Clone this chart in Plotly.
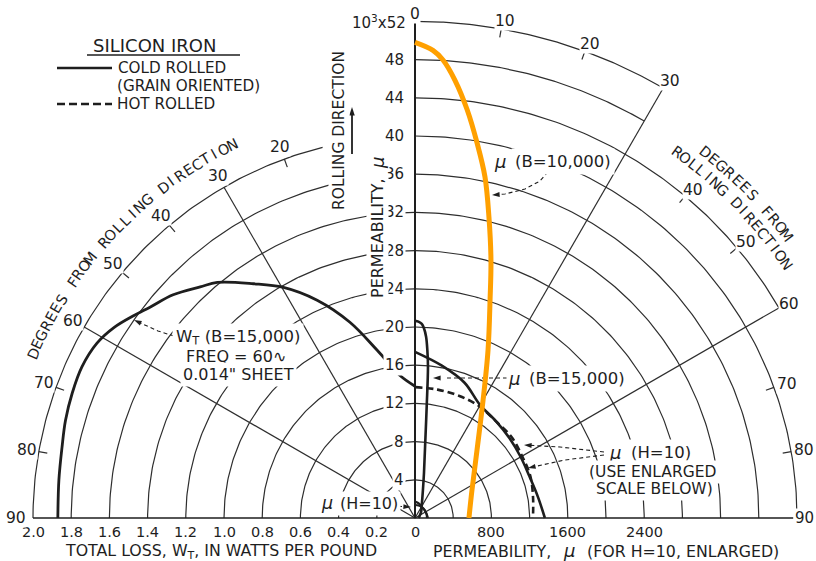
import math
import numpy as np
import plotly.graph_objects as go

# ---------------- data ----------------
# Total loss W_T (B = 15,000, 60 cycles, 0.014" sheet) - cold rolled, watts per pound
wt_angle_deg = [0, 6, 12.7, 18.4, 24.2, 29.7, 34.6, 40, 42.9, 47.3, 51.5, 54.4, 57.7, 61.2, 65.6, 70, 74.4, 78.6, 83.9, 90]
wt_cold = [0.69, 0.75, 0.90, 1.08, 1.25, 1.39, 1.49, 1.61, 1.652, 1.723, 1.773, 1.816, 1.865, 1.90, 1.915, 1.91, 1.90, 1.885, 1.875, 1.87]

# Permeability at B = 10,000 - cold rolled
mu_b10_angle_deg = [0, 2.2, 3.5, 5.2, 7.3, 9.4, 11.6, 13.8, 16.4, 19, 23.5, 30, 42.4, 63.8, 90]
mu_b10_cold = [49800, 49000, 48050, 46050, 43070, 39800, 36450, 32460, 28170, 24140, 19180, 14260, 9630, 6650, 5650]

# Permeability at B = 15,000 - cold rolled
mu_b15_angle_deg = [0, 1, 2, 2.7, 3.5, 4.2, 4.9, 6, 8, 11.3, 16, 22, 31, 45, 60, 90]
mu_b15_cold = [20650, 20560, 20330, 19890, 19020, 17640, 15900, 11700, 7600, 4800, 3000, 2000, 1350, 900, 600, 400]

# Permeability at H = 10 - cold rolled (solid) and hot rolled (dashed)
mu_h10_angle_deg = [0, 10, 20, 30, 40, 50, 60, 70, 80, 90]
mu_h10_cold = [1740, 1620, 1510, 1365, 1322, 1295, 1278, 1275, 1305, 1360]
mu_h10_hot = [1370, 1365, 1360, 1350, 1320, 1320, 1295, 1285, 1255, 1235]

# axes / tick labels
mu_ticks = [4, 8, 12, 16, 20, 24, 28, 32, 36, 40, 44, 48]          # x 10^3
loss_ticks = [2.0, 1.8, 1.6, 1.4, 1.2, 1.0, 0.8, 0.6, 0.4, 0.2]
mu_h10_ticks = [0, 800, 1600, 2400]
deg_right = [0, 10, 20, 30, 40, 50, 60, 70, 80, 90]
deg_left = [20, 30, 40, 50, 60, 70, 80, 90]
grid_radii = [4, 8, 12, 16, 20, 24, 28, 32, 36, 40, 44, 48, 52]

# ---------------- scales ----------------
MU_B_PER_UNIT = 1000.0   # 10^3 scale of the vertical axis
MU_H_PER_UNIT = 100.0    # enlarged H=10 scale
UNITS_PER_WATT = 20.0    # 2.0 W/lb on the outer 40-unit circle

S = 9.55                 # pixels per unit
OX, OY = 415, 518        # origin in pixels
W, H = 816, 561
INK = "#1e1e1e"
GRID = "#2e2e2e"
FONT = "DejaVu Sans"


def P(px, py):
    return (px - OX) / S, (OY - py) / S


def polar(angles, radii, side=1):
    a = np.radians(np.asarray(angles, float))
    r = np.asarray(radii, float)
    return side * r * np.sin(a), r * np.cos(a)


fig = go.Figure()


def line(x, y, width=1.2, color=GRID, dash=None, shape="linear"):
    fig.add_trace(go.Scatter(x=list(x), y=list(y), mode="lines", hoverinfo="skip",
                             line=dict(color=color, width=width, dash=dash, shape=shape),
                             showlegend=False))


def arrowhead(tip, frm, size=8):
    dx, dy = tip[0] - frm[0], tip[1] - frm[1]
    ang = math.degrees(math.atan2(dx, -dy))
    x, y = P(*tip)
    fig.add_trace(go.Scatter(x=[x], y=[y], mode="markers", hoverinfo="skip", showlegend=False,
                             marker=dict(symbol="arrow", size=size, angle=ang, color=INK,
                                         line=dict(width=0))))


def arc(r, a0, a1, side=1):
    a = np.linspace(a0, a1, 120)
    x, y = polar(a, np.full_like(a, r), side)
    line(x, y)


# ---------------- grid ----------------
right_extent = {44: 60, 48: 30, 52: 30}
left_extent = {36: 14.5, 40: 14}
for r in grid_radii:
    arc(r, 0, right_extent.get(r, 90), 1)
    if r <= 40:
        arc(r, left_extent.get(r, 0), 90, -1)

for ang, rmax, side in [(30, 52, 1), (60, 44, 1), (30, 40, -1), (60, 40, -1)]:
    x, y = polar([ang, ang], [0, rmax], side)
    line(x, y)

tick_marks = [(10, 52, 1), (20, 52, 1), (40, 44, 1), (50, 44, 1), (70, 40, 1), (80, 40, 1),
              (20, 40, -1), (40, 40, -1), (50, 40, -1), (70, 40, -1), (80, 40, -1)]
for ang, r, side in tick_marks:
    x, y = polar([ang, ang], [r, r - 0.9], side)
    line(x, y)

# axes
line([-40, 39.6], [0, 0], width=1.7, color=INK)
line([0, 0], [0, 52], width=2.0, color=INK)

# ---------------- curves ----------------
x, y = polar(wt_angle_deg, np.array(wt_cold) * UNITS_PER_WATT, -1)
line(x, y, width=2.8, color=INK, shape="spline")

x, y = polar(mu_b15_angle_deg, np.array(mu_b15_cold) / MU_B_PER_UNIT, 1)
line(x, y, width=2.6, color=INK, shape="spline")

x, y = polar(mu_h10_angle_deg, np.array(mu_h10_cold) / MU_H_PER_UNIT, 1)
line(x, y, width=2.6, color=INK, shape="spline")
x, y = polar(mu_h10_angle_deg, np.array(mu_h10_hot) / MU_H_PER_UNIT, 1)
line(x, y, width=2.6, color=INK, dash="7px,4px", shape="spline")

# H = 10 at true scale (small loops at the origin)
x, y = polar(mu_h10_angle_deg, np.array(mu_h10_cold) / MU_B_PER_UNIT, 1)
line(x, y, width=2.2, color=INK, shape="spline")
x, y = polar(mu_h10_angle_deg, np.array(mu_h10_hot) / MU_B_PER_UNIT, 1)
line(x, y, width=2.0, color=INK, shape="spline")

# legend samples
lx0, ly0 = P(57, 68)
lx1, _ = P(112, 68)
line([lx0, lx1], [ly0, ly0], width=2.6, color=INK)
_, ly1 = P(57, 104)
line([lx0, lx1], [ly1, ly1], width=2.6, color=INK, dash="8px,4px")
ux0, uy = P(87, 55)
ux1, _ = P(240, 55)
line([ux0, ux1], [uy, uy], width=1.3, color=INK)

# dashed leader lines with arrowheads
leaders = [
    [(548, 172), (540, 181), (525, 189), (505, 194), (492, 195)],
    [(507, 378), (433, 378)],
    [(604, 452), (560, 447), (524, 445)],
    [(604, 455), (565, 460), (528, 468)],
    [(174, 336), (158, 331), (134, 320)],
    [(391, 506), (411, 507)],
]
for pts in leaders:
    tip, prev = pts[-1], pts[-2]
    stop = (tip[0] - (tip[0] - prev[0]) * 0.15, tip[1] - (tip[1] - prev[1]) * 0.15)
    xs, ys = zip(*[P(a, b) for a, b in pts[:-1] + [stop]])
    line(xs, ys, width=1.1, color=INK, dash="4px,3px")
    arrowhead(tip, prev, size=8)

# rolling direction arrow
x0, y0 = P(352, 154)
x1, y1 = P(352, 112)
line([x0, x1], [y0, y1], width=1.8, color=INK)
arrowhead((352, 107), (352, 154), size=9)

anns = []


def txt(s, px, py, size=15, angle=0, xa="center", ya="middle", bg=False, pad=1, style="normal"):
    x, y = P(px, py)
    d = dict(x=x, y=y, xref="x", yref="y", text=s, showarrow=False, textangle=angle,
             xanchor=xa, yanchor=ya, borderpad=pad,
             font=dict(family=FONT, size=size, color=INK, style=style))
    if bg:
        d["bgcolor"] = "white"
    anns.append(d)


def mu(px, py, size=18, angle=0, bg=True):
    txt("μ", px, py, size=size, angle=angle, bg=bg, pad=1, style="italic")


def txt_units(s, x, y, **kw):
    txt(s, OX + x * S, OY - y * S, **kw)


# vertical axis tick labels
for v in mu_ticks:
    txt(str(v), 406, OY - v * S, xa="right", bg=True, pad=1, size=15)
txt("10<sup>3</sup>x52", 408, 22, xa="right", size=15)

# bottom tick labels
for v in loss_ticks:
    txt(f"{v:.1f}", OX - v * UNITS_PER_WATT * S, 532, size=14.5, pad=0)
for v in mu_h10_ticks:
    txt(str(v), OX + v / MU_H_PER_UNIT * S, 532, size=14.5, pad=0)

txt("TOTAL LOSS, W<sub>T</sub>, IN WATTS PER POUND", 221, 551, size=15.8, pad=0)
txt("PERMEABILITY,", 552, 551, xa="right", size=15.8, pad=0)
mu(569, 550, size=18, bg=False)
txt("(FOR H=10, ENLARGED)", 586, 551, xa="left", size=15.8, pad=0)

# degree labels
for d in deg_right:
    r = 52.8 if d <= 30 else (44.9 if d <= 60 else 41.1)
    x, y = polar([d], [r], 1)
    if d == 90:
        txt(str(d), 815, OY - y[0] * S, xa="right", bg=True, pad=0, size=15)
    else:
        txt_units(str(d), x[0] + (0.3 if d > 0 else 0), y[0], bg=True, pad=0, size=15.5)
for d in deg_left:
    r = 41.3 if d < 90 else 41.8
    x, y = polar([d], [r], -1)
    txt_units(str(d), x[0], y[0], bg=True, pad=0, size=15.5)


# curved titles
def curved(s, r, a0, a1, side=1, size=14.5):
    n = len(s)
    for i, ch in enumerate(s):
        if ch == " ":
            continue
        a = a0 + (a1 - a0) * i / (n - 1)
        x, y = polar([a], [r], side)
        txt_units(ch, x[0], y[0], size=size, angle=side * a, pad=0)


curved("DEGREES FROM ROLLING DIRECTION", 43.5, 66.7, 26.1, side=-1)
curved("DEGREES FROM", 48.9, 38.4, 52.8)
curved("ROLLING DIRECTION", 47.1, 35.6, 55.6)

# axis side titles
txt("ROLLING DIRECTION", 339, 131, angle=-90, size=15.5, bg=True)
txt("PERMEABILITY,", 377, 238, angle=-90, size=16, bg=True)
mu(377, 163, size=18, angle=-90)

# legend
txt("SILICON IRON", 154, 45, size=18)
txt("COLD ROLLED", 117, 68, xa="left", size=15.2, pad=0)
txt("(GRAIN ORIENTED)", 116, 86, xa="left", size=15.2, pad=0)
txt("HOT ROLLED", 116, 104, xa="left", size=15.2, pad=0)

# curve labels
txt("(B=10,000)", 511, 161, xa="left", size=16.5, bg=True, pad=3)
mu(500, 161)
txt("(B=15,000)", 525, 378, xa="left", size=16.5, bg=True, pad=3)
mu(514, 378)
txt("(H=10)", 627, 452, xa="left", size=16.5, bg=True, pad=3)
mu(615, 452)
txt("(USE ENLARGED", 653, 472, size=15.5, bg=True, pad=2)
txt("SCALE BELOW)", 654, 489, size=15.5, bg=True, pad=2)
txt("W<sub>T</sub> (B=15,000)", 238, 337, size=16.5, bg=True, pad=3)
txt("FREQ = 60∿", 236, 356, size=16, bg=True, pad=2)
txt("0.014\" SHEET", 238, 374, size=16, bg=True, pad=2)
txt("(H=10)", 337, 503, xa="left", size=16, bg=True, pad=2)
mu(327, 503, size=17.5)

# orange μ (B = 10,000) on top
x, y = polar(mu_b10_angle_deg, np.array(mu_b10_cold) / MU_B_PER_UNIT, 1)
line(x, y, width=5, color="#FFA000", shape="spline")

fig.update_layout(
    width=W, height=H, margin=dict(l=0, r=0, t=0, b=0),
    paper_bgcolor="white", plot_bgcolor="white",
    xaxis=dict(range=[(0 - OX) / S, (W - OX) / S], visible=False, fixedrange=True),
    yaxis=dict(range=[(OY - H) / S, OY / S], visible=False, fixedrange=True),
    annotations=anns, showlegend=False,
)

fig.write_html("out.html", config={"displayModeBar": False},
               post_script="document.body.style.margin='0';document.body.style.overflow='hidden';")
